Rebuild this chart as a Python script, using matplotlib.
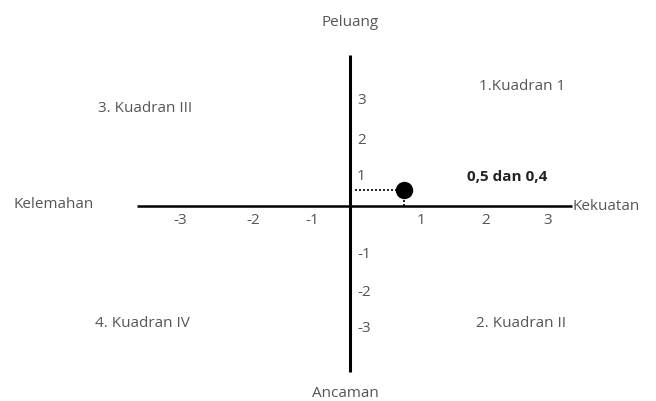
import matplotlib
matplotlib.use("Agg")
import matplotlib.pyplot as plt

plt.rcParams['font.family'] = ['Open Sans', 'DejaVu Sans']

# ---- data ----
x_tick_labels = ['-3', '-2', '-1', '1', '2', '3']
y_tick_labels = ['3', '2', '1', '-1', '-2', '-3']
point_x = [0.5]
point_y = [0.4]
point_label = '0,5 dan 0,4'
axis_labels = {'top': 'Peluang', 'bottom': 'Ancaman', 'left': 'Kelemahan', 'right': 'Kekuatan'}
quadrant_labels = ['1.Kuadran 1', '2. Kuadran II', '3. Kuadran III', '4. Kuadran IV']

# ---- layout (diagram coordinates) ----
x_tick_pos = [-1.574, -0.898, -0.352, 0.657, 1.26, 1.833]
y_tick_pos = [2.625, 1.65, 0.75, -1.2, -2.175, -3.05]
quad_pos = [(1.593, 2.98), (1.583, -2.93), (-1.898, 2.45), (-1.926, -2.93)]

fig = plt.figure(figsize=(6.56, 4.01), dpi=100)
ax = fig.add_axes([0, 0, 1, 1])
ax.set_xlim(-350 / 108, 306 / 108)
ax.set_ylim(-195 / 40, 206 / 40)
ax.axis('off')

txt = '#555555'
fs = 11

# main axes
ax.plot([-1.97, 2.056], [0, 0], color='black', lw=1.8, solid_capstyle='butt')
ax.plot([0, 0], [-4.15, 3.775], color='black', lw=2.2, solid_capstyle='butt')

# ticks
for p, l in zip(x_tick_pos, x_tick_labels):
    ax.text(p, -0.35, l, ha='center', va='center', fontsize=fs, color=txt)
for p, l in zip(y_tick_pos, y_tick_labels):
    ax.text(0.065, p, l, ha='left', va='center', fontsize=fs, color=txt)

# dotted guides and point
ax.plot([0.05, point_x[0]], [point_y[0], point_y[0]], color='black', lw=1.2, ls=(0, (1.2, 1.2)))
ax.plot([point_x[0], point_x[0]], [0, point_y[0]], color='black', lw=1.2, ls=(0, (1.2, 1.2)))
ax.plot(point_x, point_y, 'o', color='black', markersize=11.5)
ax.text(1.454, 0.72, point_label, ha='center', va='center', fontsize=fs, fontweight='bold', color='#222222')

# axis end labels
ax.text(0, 4.6, axis_labels['top'], ha='center', va='center', fontsize=fs, color=txt)
ax.text(-0.04, -4.68, axis_labels['bottom'], ha='center', va='center', fontsize=fs, color=txt)
ax.text(-3.12, 0.05, axis_labels['left'], ha='left', va='center', fontsize=fs, color=txt)
ax.text(2.06, 0.0, axis_labels['right'], ha='left', va='center', fontsize=fs, color=txt)

# quadrant labels
for (qx, qy), l in zip(quad_pos, quadrant_labels):
    ax.text(qx, qy, l, ha='center', va='center', fontsize=fs, color=txt)

fig.savefig('out.png', dpi=100)
